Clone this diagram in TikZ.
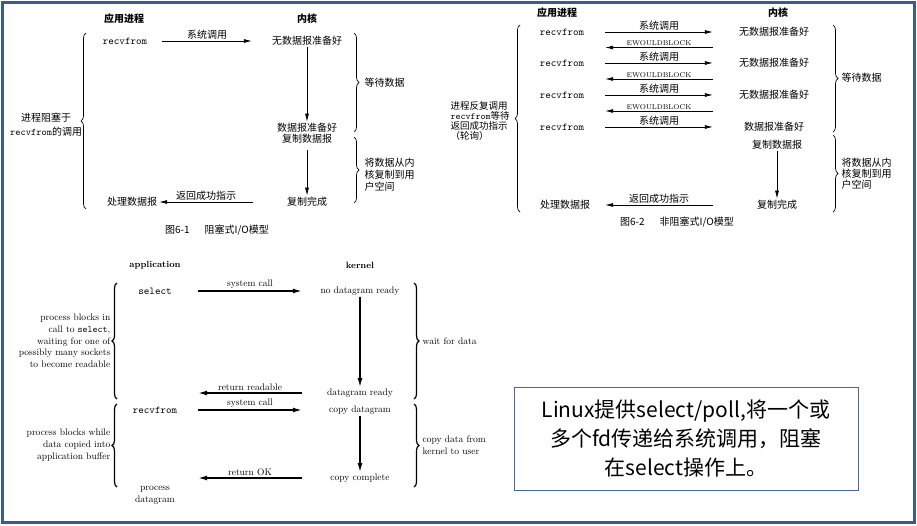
\documentclass[tikz,border=0pt]{standalone}
\usepackage{fontspec}
\newfontfamily\cjk{Noto Sans CJK SC}
\usetikzlibrary{arrows.meta,decorations.pathreplacing,calc}
\definecolor{framecol}{RGB}{56,93,138}
\definecolor{boxcol}{RGB}{72,104,150}

\begin{document}
\begin{tikzpicture}[x=1pt,y=-1pt,
  cn/.style={font=\cjk\fontsize{10}{12}\selectfont,inner sep=1.5pt},
  cnb/.style={font=\cjk\bfseries\fontsize{10}{12}\selectfont,inner sep=1.5pt},
  tt/.style={font=\ttfamily\fontsize{10.5}{12}\selectfont,inner sep=1.5pt},
  en/.style={font=\fontsize{9.5}{11.7}\selectfont,inner sep=1.5pt},
  small/.style={font=\fontsize{7}{8}\selectfont,inner sep=1.5pt},
  arr/.style={-{Latex[length=8pt,width=4pt]},line width=0.7pt},
  barr/.style={-{Latex[length=9pt,width=5pt]},line width=1.4pt},
  brc/.style={decorate,decoration={brace,amplitude=5pt},line width=0.7pt},
  bbrc/.style={decorate,decoration={brace,amplitude=5pt},line width=1.2pt}]

\useasboundingbox (0,0) rectangle (917,525);
\draw [framecol,line width=3pt] (2.5,2.5) rectangle (914.5,522.5);

%% figure 6-1, blocking I/O
\node [cnb] (app1) at (124,19) {应用进程};
\node [cnb] (ker1) at (307,19) {内核};
\node [tt,minimum width=74] (rf1) at (125,41) {recvfrom};
\node [cn,minimum width=110] (nd1) at (307,41) {无数据报准备好};
\node [cn] (dr1) at (307,128) {数据报准备好};
\node [cn] (cp1) at (307,139) {复制数据报};
\node [cn,minimum width=108] (dn1) at (307,202) {复制完成};
\node [cn,minimum width=54] (pd1) at (132,202) {处理数据报};

\draw [arr] (rf1) -- (nd1) node [cn,midway,above] {系统调用};
\draw [arr] (nd1) -- (dr1);
\draw [arr,shorten <=5pt] (cp1) -- (dn1);
\draw [arr] (dn1) -- (pd1) node [cn,midway,above] {返回成功指示};

% braces
\draw [brc] (86,209) -- (86,33);
\node [cn,align=center,font=\cjk\fontsize{10}{14}\selectfont] (blk1) at (46,125) {进程阻塞于\\{\ttfamily recvfrom}的调用};
\draw [brc] (354,33) -- (354,132);
\node [cn,anchor=west] (wt1) at (363,83) {等待数据};
\draw [brc] (354,137) -- (354,203);
\node [cn,anchor=west,align=left] (cpk1) at (363,175) {将数据从内\\核复制到用\\户空间};

\node [cn] (cap1) at (217,230) {图6-1\hspace{1.5em}阻塞式I/O模型};

%% figure 6-2, non blocking I/O
\node [cnb] (app2) at (557,13) {应用进程};
\node [cnb] (ker2) at (778,13) {内核};
\foreach \y [count=\i] in {32,63,95,127}
  \node [tt,minimum width=86] (nrf\i) at (562,\y) {recvfrom};
\foreach \y [count=\i] in {32,63,95}
  \node [cn,minimum width=122] (nnd\i) at (774,\y) {无数据报准备好};
\node [cn,minimum width=122] (nnd4) at (774,127) {数据报准备好};
\node [cn] (ncp) at (777,145) {复制数据报};
\node [cn,minimum width=128] (ndn) at (777,205) {复制完成};
\node [cn,minimum width=80] (npd) at (565,205) {处理数据报};

\foreach \i in {1,...,4}
  \draw [arr] (nrf\i) -- (nnd\i) node [cn,midway,above] {系统调用};
\foreach \i/\j in {1/2,2/3,3/4}
  \draw [arr] ($(nnd\i.west)!.5!(nnd\j.west)$) -- ($(nrf\i.east)!.5!(nrf\j.east)$) node [small,midway,above] {EWOULDBLOCK};
\draw [arr] (ncp) -- (ndn);
\draw [arr] (ndn) -- (npd) node [cn,midway,above] {返回成功指示};

% braces
\draw [brc] (520,212) -- (520,25);
\node [cn,anchor=west,align=left,font=\cjk\fontsize{9.5}{10}\selectfont] (nblk) at (449,121) {进程反复调用\\{\ttfamily recvfrom}等待\\返回成功指示\\（轮询）};
\draw [brc] (833,25) -- (833,132);
\node [cn,anchor=west] (nwt) at (840,78) {等待数据};
\draw [brc] (833,135) -- (833,212);
\node [cn,anchor=west,align=left,font=\cjk\fontsize{10}{11}\selectfont] (ncpk) at (840,174) {将数据从内\\核复制到用\\户空间};

\node [cn] (cap2) at (677,222) {图6-2\hspace{1.5em}非阻塞式I/O模型};

%% figure with select
\node [font=\bfseries\fontsize{9}{11}\selectfont] (app3) at (155,265) {application};
\node [font=\bfseries\fontsize{9}{11}\selectfont] (ker3) at (360,265) {kernel};
\node [tt,minimum width=86] (sel) at (155,291) {select};
\node [en,minimum width=116] (ndr) at (360,291) {no datagram ready};
\node [en,minimum width=116] (dgr) at (360,393) {datagram ready};
\node [tt,minimum width=86] (rf3) at (155,410) {recvfrom};
\node [en,minimum width=116] (cdg) at (360,410) {copy datagram};
\node [en,minimum width=116] (ccp) at (360,478) {copy complete};
\node [en,align=center] (pdg) at (155,495) {process\\datagram};
\coordinate (rr) at (dgr.west -| sel.east);
\coordinate (rok) at (ccp.west -| rf3.east);

\draw [barr] (sel) -- (ndr) node [en,midway,above] {system call};
\draw [barr] (ndr) -- (dgr);
\draw [barr] (dgr) -- (rr) node [en,midway,above] {return readable};
\draw [barr] (rf3) -- (cdg) node [en,midway,above] {system call};
\draw [barr] (cdg) -- (ccp);
\draw [barr] (ccp) -- (rok) node [en,midway,above] {return OK};

% braces
\draw [bbrc] (117,399) -- (117,283);
\node [en,anchor=east,align=right] (blk3) at (112,341) {process blocks in\\call to {\ttfamily select},\\waiting for one of\\possibly many sockets\\to become readable};
\draw [bbrc] (117,487) -- (117,404);
\node [en,anchor=east,align=right] (blk4) at (112,445) {process blocks while\\data copied into\\application buffer};
\draw [bbrc] (414,283) -- (414,399);
\node [en,anchor=west] (wt3) at (421,341) {wait for data};
\draw [bbrc] (414,404) -- (414,487);
\node [en,anchor=west,align=left] (cpk3) at (421,445) {copy data from\\kernel to user};

%% the note
\node [draw=boxcol,line width=1pt,minimum width=344,minimum height=103,align=center,font=\cjk\fontsize{21}{29}\selectfont] (note) at (686,438.5) {Linux提供select/poll,将一个或\\多个fd传递给系统调用，阻塞\\在select操作上。};

\end{tikzpicture}
\end{document}
